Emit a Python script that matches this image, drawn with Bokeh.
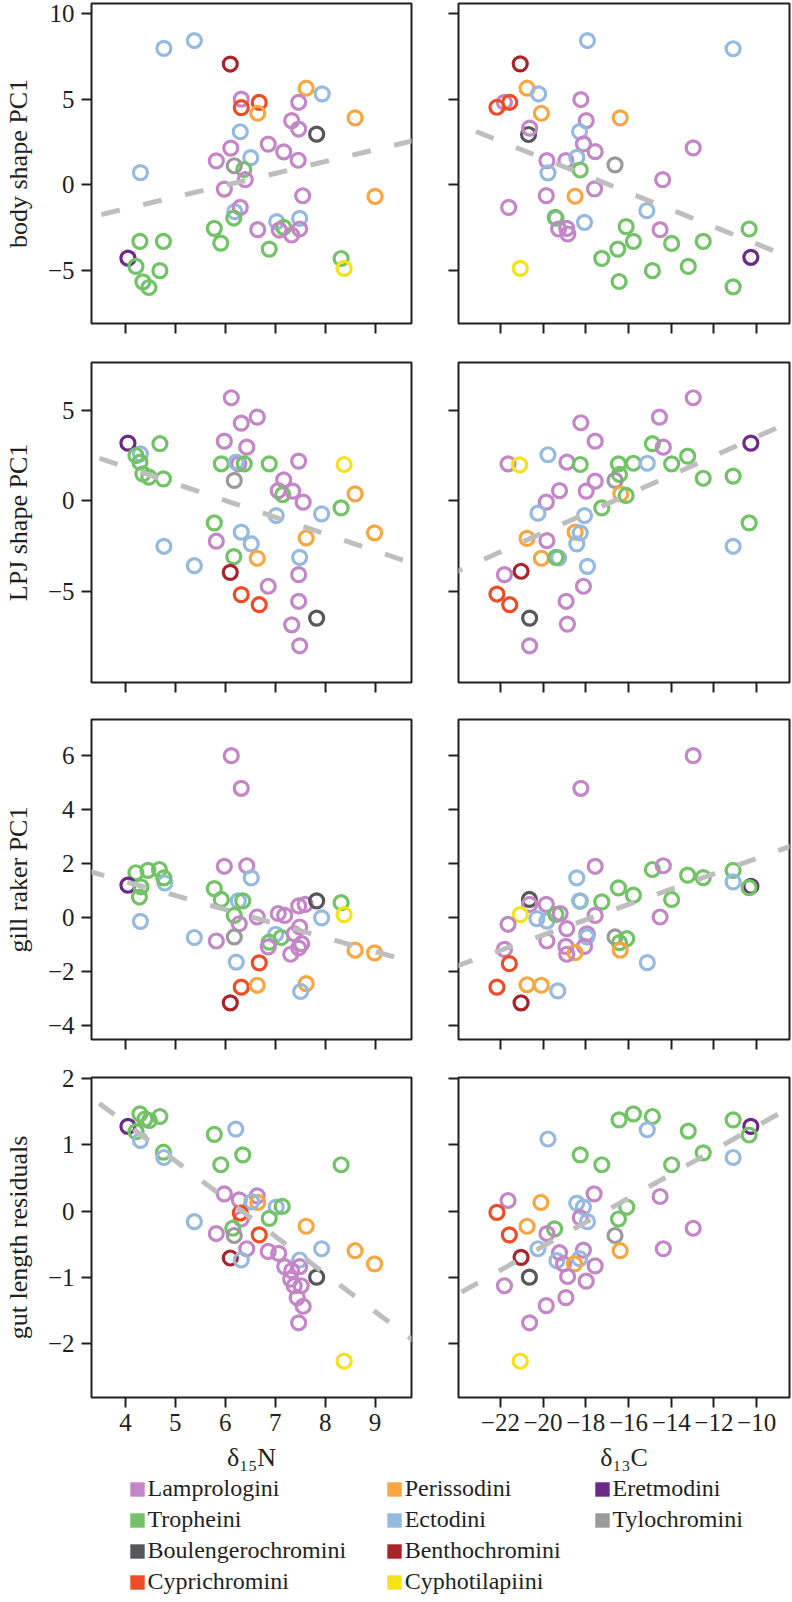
from bokeh.plotting import figure
from bokeh.layouts import column, row
from bokeh.models import ColumnDataSource, Range1d, FixedTicker, Slope, Legend, LegendItem
from bokeh.transform import factor_cmap
from bokeh.embed import file_html
from bokeh.resources import INLINE

FONT = "Liberation Serif"
INK = "#231F20"

# ---------------- tribes ----------------
tribe_codes = ["L", "T", "B", "Cy", "P", "E", "Be", "Ct", "Er", "Ty"]
tribe_names = ["Lamprologini", "Tropheini", "Boulengerochromini", "Cyprichromini",
               "Perissodini", "Ectodini", "Benthochromini", "Cyphotilapiini",
               "Eretmodini", "Tylochromini"]
tribe_colors = ["#C386C6", "#72C266", "#56565B", "#EC4D27", "#F8A640",
                "#96BADF", "#A8242B", "#F4E21A", "#6B2A86", "#9A9A9A"]

# ---------------- axis ticks / ranges ----------------
n_ticks = [4, 5, 6, 7, 8, 9]
c_ticks = [-22, -20, -18, -16, -14, -12, -10]
n_range = (3.32, 9.73)
c_range = (-23.96, -8.46)
body_ticks = [-5, 0, 5, 10]
lpj_ticks = [-5, 0, 5]
gill_ticks = [-4, -2, 0, 2, 4, 6]
gut_ticks = [-2, -1, 0, 1, 2]
body_range = (-8.08, 10.58)
lpj_range = (-10.04, 7.65)
gill_range = (-4.53, 7.33)
gut_range = (-2.82, 2.02)

# regression lines (gradient, intercept)
fit_body_N = (0.689, -4.15)
fit_body_C = (-0.499, -8.43)
fit_lpj_N = (-0.926, 5.58)
fit_lpj_C = (0.53, 8.84)
fit_gill_N = (-0.519, 3.40)
fit_gill_C = (0.284, 5.02)
fit_gut_N = (-0.570, 3.61)
fit_gut_C = (0.1816, 3.10)

# ---------------- body shape PC1 ----------------
body_N_t = ["E","E","Be","L","Cy","Cy","P","P","E","L","P","L","L","B","E","L","L","L","L","E",
            "L","T","Ty","E","L","L","L","P","E","L","T","E","T","E","L","L","L","L","T","T",
            "T","T","T","Er","T","T","T","T","T","Ct"]
body_N_x = [4.77,5.38,6.10,6.32,6.32,6.68,6.65,7.62,7.94,7.47,8.60,7.33,7.47,7.83,6.30,6.86,6.11,7.17,5.82,6.51,
            7.46,6.37,6.18,4.30,6.40,5.98,7.55,9.00,6.19,6.30,6.17,7.03,7.17,7.49,7.08,7.33,7.49,6.65,5.78,5.91,
            6.88,4.29,4.76,4.05,4.21,4.69,4.35,4.47,8.32,8.38]
body_N_y = [7.96,8.42,7.05,5.00,4.51,4.81,4.18,5.64,5.31,4.82,3.91,3.75,3.26,2.96,3.10,2.38,2.15,1.93,1.40,1.59,
            1.44,0.90,1.12,0.72,0.31,-0.24,-0.63,-0.67,-1.56,-1.31,-1.93,-2.14,-2.47,-1.95,-2.63,-2.92,-2.57,-2.61,-2.53,-3.39,
            -3.74,-3.29,-3.29,-4.27,-4.75,-5.00,-5.65,-5.98,-4.29,-4.87]

body_C_t = ["E","E","Be","P","E","L","Cy","Cy","P","L","P","L","B","L","E","L","L","L","L","L",
            "E","Ty","E","T","L","L","P","L","L","E","E","T","E","L","L","L","L","T","T","T",
            "T","T","T","T","T","T","T","T","Er","Ct"]
body_C_x = [-17.92,-11.10,-21.07,-20.75,-20.21,-21.81,-21.56,-22.16,-20.08,-18.23,-16.39,-17.98,-20.68,-20.63,-18.29,-18.11,-17.56,-12.97,-19.82,-18.93,
            -18.42,-16.63,-19.77,-18.26,-14.40,-19.85,-18.50,-17.59,-21.61,-15.14,-19.38,-19.43,-18.06,-19.27,-18.89,-18.84,-14.52,-16.11,-15.77,-16.50,
            -17.25,-16.44,-13.98,-12.50,-14.88,-13.20,-11.10,-10.35,-10.27,-21.07]
body_C_y = [8.42,7.94,7.06,5.64,5.31,4.82,4.82,4.53,4.18,4.98,3.91,3.75,2.94,3.31,3.11,2.39,1.94,2.16,1.42,1.42,
            1.61,1.17,0.70,0.87,0.31,-0.62,-0.66,-0.23,-1.31,-1.50,-1.95,-1.89,-2.18,-2.57,-2.53,-2.86,-2.61,-2.43,-3.29,-3.74,
            -4.28,-5.63,-3.41,-3.29,-5.00,-4.75,-5.94,-2.57,-4.22,-4.87]

# ---------------- LPJ shape PC1 ----------------
lpj_N_t = ["L","L","L","L","Er","T","L","E","T","T","T","T","T","T","L","E","T","T","L","Ty",
           "Ct","L","L","T","L","L","P","E","E","T","P","T","L","E","E","P","E","T","P","E",
           "E","Be","L","L","Cy","Cy","L","B","L","L"]
lpj_N_x = [6.12,6.64,6.32,5.98,4.05,4.69,6.43,4.30,4.21,4.29,4.35,4.47,4.76,5.92,6.27,6.22,6.38,6.88,7.47,6.18,
           8.38,7.17,7.06,7.15,7.35,7.56,8.60,7.02,7.93,8.32,8.99,5.78,5.82,6.32,6.52,7.62,4.77,6.17,6.64,7.49,
           5.38,6.10,6.86,7.47,6.32,6.68,7.47,7.83,7.33,7.49]
lpj_N_y = [5.70,4.63,4.30,3.30,3.19,3.16,2.97,2.60,2.51,2.14,1.49,1.31,1.22,2.05,2.05,2.14,2.05,2.05,2.20,1.13,
           2.01,1.16,0.57,0.35,0.54,-0.07,0.39,-0.81,-0.72,-0.39,-1.77,-1.22,-2.23,-1.73,-2.38,-2.05,-2.51,-3.08,-3.17,-3.12,
           -3.58,-3.95,-4.72,-4.08,-5.18,-5.74,-5.55,-6.48,-6.85,-8.01]

lpj_C_t = ["L","L","L","L","Er","T","L","E","L","Ct","L","T","T","T","E","T","T","T","T","T",
           "Ty","L","L","L","P","T","L","T","E","E","T","P","P","E","L","E","E","P","E","T",
           "E","L","Be","Cy","Cy","L","L","B","L","L"]
lpj_C_x = [-12.97,-14.55,-18.23,-17.56,-10.27,-14.88,-14.37,-19.77,-21.64,-21.10,-18.88,-18.26,-16.47,-15.77,-15.12,-13.98,-13.23,-12.50,-11.10,-16.42,
           -16.63,-17.56,-17.98,-19.23,-16.36,-16.11,-19.85,-17.25,-20.24,-18.06,-10.35,-20.75,-18.50,-18.26,-19.82,-18.42,-11.10,-20.08,-19.27,-19.40,
           -17.92,-21.81,-21.03,-22.16,-21.56,-18.11,-18.92,-20.63,-18.86,-20.63]
lpj_C_y = [5.70,4.63,4.32,3.30,3.19,3.16,2.97,2.55,2.05,1.99,2.14,2.01,2.05,2.08,2.08,2.05,2.47,1.25,1.37,1.46,
           1.13,1.09,0.54,0.57,0.39,0.30,-0.07,-0.39,-0.68,-0.81,-1.22,-2.07,-1.73,-1.77,-2.20,-2.38,-2.51,-3.17,-3.15,-3.12,
           -3.62,-4.08,-3.89,-5.15,-5.74,-4.72,-5.55,-6.48,-6.81,-8.01]

# ---------------- gill raker PC1 ----------------
gill_N_t = ["L","L","L","L","E","T","T","T","E","T","Er","T","T","E","T","T","E","T","T","L",
            "L","L","L","L","L","B","T","Ct","E","P","P","Ty","L","E","E","T","T","L","L","L",
            "L","L","L","E","Cy","Cy","P","P","E","Be"]
gill_N_x = [6.12,6.32,5.98,6.43,6.52,4.21,4.45,4.68,4.79,4.77,4.05,4.31,4.28,4.30,5.78,5.92,6.26,6.35,6.18,6.64,
            6.28,7.06,7.19,7.47,7.60,7.83,8.32,8.38,7.93,8.60,8.99,6.18,5.82,5.38,7.01,6.88,7.12,6.86,7.49,7.38,
            7.31,7.47,7.53,6.22,6.68,6.32,6.64,7.62,7.51,6.10]
gill_N_y = [5.99,4.78,1.89,1.91,1.46,1.65,1.74,1.77,1.27,1.46,1.19,1.13,0.75,-0.15,1.06,0.66,0.61,0.61,0.07,0.01,
            -0.24,0.14,0.07,0.42,0.48,0.61,0.54,0.10,-0.02,-1.22,-1.32,-0.73,-0.88,-0.75,-0.63,-0.92,-0.75,-1.10,-0.36,-0.61,
            -1.37,-1.14,-0.98,-1.66,-1.69,-2.59,-2.52,-2.46,-2.75,-3.17]

gill_C_t = ["L","L","L","E","T","L","T","T","T","E","Er","T","T","T","T","T","E","T","B","L",
            "L","Ct","L","E","E","T","L","L","L","L","E","L","E","L","Ty","T","T","L","L","P",
            "L","P","L","E","Cy","Cy","P","P","E","Be"]
gill_C_x = [-12.97,-18.23,-17.56,-18.42,-14.88,-14.37,-13.23,-12.50,-11.10,-11.10,-10.27,-10.35,-16.47,-15.77,-13.98,-18.26,-18.29,-17.25,-20.64,-20.63,
            -19.85,-21.07,-21.64,-20.29,-19.82,-19.40,-19.20,-17.56,-14.52,-18.89,-17.92,-17.95,-17.95,-19.82,-16.63,-16.08,-16.42,-18.93,-18.06,-18.50,
            -18.89,-16.39,-21.81,-15.12,-21.58,-22.16,-20.75,-20.08,-19.31,-21.03]
gill_C_y = [5.99,4.78,1.89,1.46,1.77,1.91,1.56,1.47,1.74,1.31,1.15,1.10,1.09,0.82,0.66,0.60,0.61,0.57,0.66,0.48,
            0.48,0.10,-0.26,-0.05,-0.14,0.11,0.14,0.07,0.01,-0.42,-0.63,-0.61,-0.73,-0.88,-0.73,-0.79,-0.94,-1.08,-1.08,-1.31,
            -1.37,-1.22,-1.19,-1.68,-1.72,-2.59,-2.50,-2.52,-2.73,-3.17]

# ---------------- gut length residuals ----------------
gut_N_t = ["Er","T","T","T","T","T","E","T","E","T","E","T","T","T","L","L","L","P","E","E",
           "T","L","Cy","T","E","P","L","T","Ty","Cy","L","Be","E","L","L","E","P","P","E","L",
           "L","B","L","L","L","L","L","L","Ct","L"]
gut_N_x = [4.05,4.29,4.39,4.48,4.69,4.21,4.30,4.76,4.77,5.78,6.21,6.35,5.91,8.32,5.98,6.28,6.64,6.65,6.53,7.02,
           7.14,6.32,6.30,6.88,5.38,7.62,5.82,6.15,6.18,6.68,6.43,6.10,6.32,6.86,7.07,7.93,8.60,8.99,7.49,7.19,
           7.49,7.83,7.31,7.38,7.52,7.44,7.56,7.47,8.38,7.33]
gut_N_y = [1.28,1.47,1.39,1.37,1.43,1.20,1.07,0.89,0.81,1.16,1.24,0.85,0.70,0.70,0.26,0.17,0.23,0.13,0.14,0.06,
           0.07,-0.12,-0.03,-0.11,-0.16,-0.23,-0.34,-0.26,-0.37,-0.36,-0.57,-0.71,-0.74,-0.61,-0.64,-0.57,-0.60,-0.80,-0.74,-0.84,
           -0.84,-1.00,-1.03,-1.13,-1.13,-1.31,-1.44,-1.69,-2.27,-0.90]

gut_C_t = ["T","T","T","E","T","T","Er","T","E","T","T","E","T","T","L","Cy","P","L","E","E",
           "L","E","T","T","L","Cy","P","T","L","Ty","L","P","L","E","L","L","E","L","E","P",
           "L","Be","L","B","L","L","L","L","L","Ct"]
gut_C_x = [-16.44,-15.77,-14.88,-15.12,-13.20,-11.10,-10.27,-10.35,-11.10,-12.50,-13.98,-19.77,-18.26,-17.25,-21.64,-22.16,-20.10,-17.61,-18.42,-18.11,
           -18.26,-17.92,-16.08,-16.47,-14.52,-21.58,-20.75,-19.46,-19.82,-16.63,-12.97,-16.39,-14.37,-20.24,-19.23,-18.11,-19.35,-19.04,-18.29,-18.53,
           -17.56,-21.03,-18.85,-20.64,-17.98,-21.81,-18.93,-19.85,-20.63,-21.07]
gut_C_y = [1.38,1.47,1.43,1.23,1.21,1.38,1.28,1.15,0.81,0.88,0.70,1.09,0.85,0.70,0.16,-0.02,0.13,0.26,0.12,0.06,
           -0.10,-0.16,0.06,-0.12,0.22,-0.36,-0.23,-0.27,-0.34,-0.37,-0.26,-0.60,-0.57,-0.57,-0.63,-0.59,-0.75,-0.80,-0.72,-0.80,
           -0.83,-0.70,-0.99,-1.00,-1.06,-1.13,-1.31,-1.43,-1.69,-2.27]


def fmt(v):
    return str(v).replace("-", "\u2212")


def style_axis(ax, ticks, show, standoff):
    ax.ticker = FixedTicker(ticks=ticks)
    ax.axis_line_color = None
    ax.major_tick_in = 0
    ax.major_tick_out = 10
    ax.major_tick_line_width = 2
    ax.major_tick_line_color = INK
    ax.minor_tick_line_color = None
    ax.major_label_text_font = FONT
    ax.major_label_text_color = INK
    ax.major_label_standoff = standoff
    ax.axis_label_text_font = FONT
    ax.axis_label_text_font_style = "normal"
    ax.axis_label_text_font_size = "26px"
    ax.axis_label_text_color = INK
    if show:
        ax.major_label_overrides = {v: fmt(v) for v in ticks}
        ax.major_label_text_font_size = "25px"
    else:
        ax.major_label_overrides = {v: "" for v in ticks}
        ax.major_label_text_font_size = "0px"
        ax.major_label_standoff = 0


# per-row vertical borders: (top, bottom); frames are 320 px tall
ROW_BORDERS = [(3, 17), (22, 16), (21, 17), (21, 77)]


def make_panel(xs, ys, ts, fit, xr, yr, xt, yt, col, ri, ylab=None, xlab=None):
    last = ri == 3
    top, bottom = ROW_BORDERS[ri]
    p = figure(width=434 if col == 0 else 357, height=top + 320 + bottom,
               x_range=Range1d(*xr), y_range=Range1d(*yr),
               output_backend="svg", toolbar_location=None,
               min_border_left=80 if col == 0 else 24,
               min_border_right=23 if col == 0 else 2,
               min_border_top=top, min_border_bottom=bottom)
    p.xgrid.visible = False
    p.ygrid.visible = False
    p.outline_line_color = INK
    p.outline_line_width = 2
    p.background_fill_color = "white"
    p.border_fill_color = "white"
    style_axis(p.xaxis[0], xt, last, 6)
    style_axis(p.yaxis[0], yt, col == 0, 7)
    if ylab:
        p.yaxis[0].axis_label = ylab
        p.yaxis[0].axis_label_standoff = 12
    if xlab:
        p.xaxis[0].axis_label = xlab
        p.xaxis[0].axis_label_standoff = 9
    src = ColumnDataSource(dict(x=xs, y=ys, t=ts))
    p.scatter("x", "y", source=src, marker="circle", size=14, fill_color=None,
              line_width=3.2, line_color=factor_cmap("t", tribe_colors, tribe_codes))
    p.add_layout(Slope(gradient=fit[0], y_intercept=fit[1], line_color="#BEBEBE",
                       line_width=5, line_dash="19 24"))
    return p


rows_spec = [
    ("body shape PC1", body_range, body_ticks,
     (body_N_x, body_N_y, body_N_t, fit_body_N), (body_C_x, body_C_y, body_C_t, fit_body_C)),
    ("LPJ shape PC1", lpj_range, lpj_ticks,
     (lpj_N_x, lpj_N_y, lpj_N_t, fit_lpj_N), (lpj_C_x, lpj_C_y, lpj_C_t, fit_lpj_C)),
    ("gill raker PC1", gill_range, gill_ticks,
     (gill_N_x, gill_N_y, gill_N_t, fit_gill_N), (gill_C_x, gill_C_y, gill_C_t, fit_gill_C)),
    ("gut length residuals", gut_range, gut_ticks,
     (gut_N_x, gut_N_y, gut_N_t, fit_gut_N), (gut_C_x, gut_C_y, gut_C_t, fit_gut_C)),
]

grid_rows = []
for i, (ylab, yr, yt, left, right) in enumerate(rows_spec):
    last = i == len(rows_spec) - 1
    pl = make_panel(*left, n_range, yr, n_ticks, yt, 0, i, ylab=ylab,
                    xlab="\u03b4\u2081\u2085N" if last else None)
    pr = make_panel(*right, c_range, yr, c_ticks, yt, 1, i,
                    xlab="\u03b4\u2081\u2083C" if last else None)
    grid_rows.append(row(pl, pr, spacing=0))

# ---------------- legend ----------------
LEG_H = 126
lf = figure(width=791, height=LEG_H, x_range=Range1d(0, 1), y_range=Range1d(0, 1),
            output_backend="svg", toolbar_location=None,
            x_axis_type=None, y_axis_type=None, min_border=0)
lf.outline_line_color = None
lf.background_fill_color = "white"
lf.border_fill_color = "white"
nan = float("nan")
swatches = {}
for code, colr in zip(tribe_codes, tribe_colors):
    # legend-only renderer: no visible data, only its swatch is drawn
    swatches[code] = lf.quad(left=[nan], right=[nan], bottom=[nan], top=[nan],
                             fill_color=colr, line_color=None)

legend_cols = [["L", "T", "B", "Cy"], ["P", "E", "Be", "Ct"], ["Er", "Ty"]]
legend_x = [127.5, 384.7, 592.5]
ITEM_H, SPACING, TOP = 27, 4, LEG_H - 1
for codes, lx in zip(legend_cols, legend_x):
    items = [LegendItem(label=tribe_names[tribe_codes.index(c)], renderers=[swatches[c]]) for c in codes]
    hgt = len(codes) * ITEM_H + (len(codes) - 1) * SPACING
    leg = Legend(items=items, location=(lx, TOP - hgt), orientation="vertical",
                 padding=0, margin=0, spacing=SPACING, label_height=ITEM_H,
                 glyph_height=18, glyph_width=18, label_standoff=2,
                 border_line_color=None, background_fill_alpha=0,
                 label_text_font=FONT, label_text_font_size="24px", label_text_color=INK)
    lf.add_layout(leg, "center")

layout = column(*grid_rows, lf, spacing=0)
open("out.html", "w").write(file_html(layout, INLINE, title="Trophic morphology vs stable isotopes"))
